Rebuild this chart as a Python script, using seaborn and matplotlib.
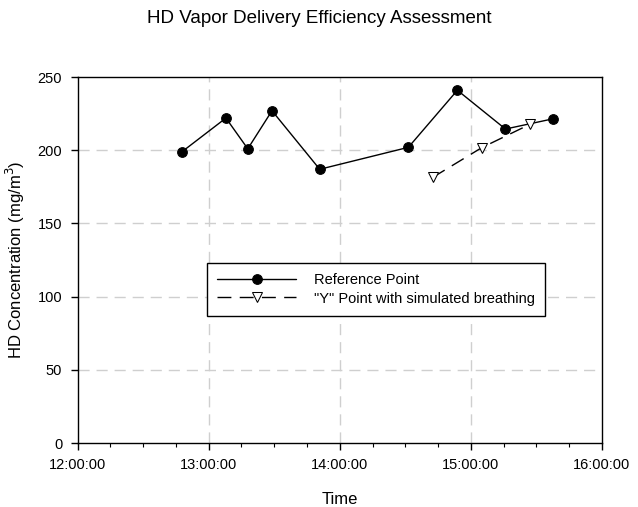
import pandas as pd
import matplotlib
matplotlib.use('Agg')
import matplotlib.pyplot as plt
import matplotlib.dates as mdates
import seaborn as sns

# data
ref_times = ['12:47:50', '13:07:55', '13:17:55', '13:29:00', '13:50:50',
             '14:31:25', '14:53:50', '15:15:50', '15:37:40']
ref_conc = [199, 222, 201, 227, 187, 202, 241, 214.5, 221.5]

y_times = ['14:42:35', '15:04:55', '15:27:00']
y_conc = [181.5, 201.7, 217.7]

day = '2000-01-01 '
ref_df = pd.DataFrame({'time': pd.to_datetime([day + t for t in ref_times]), 'conc': ref_conc})
y_df = pd.DataFrame({'time': pd.to_datetime([day + t for t in y_times]), 'conc': y_conc})

sns.set_style('white')
plt.rcParams['font.family'] = ['Liberation Sans', 'DejaVu Sans']
plt.rcParams['text.color'] = 'black'
plt.rcParams['axes.labelcolor'] = 'black'
plt.rcParams['xtick.color'] = 'black'
plt.rcParams['ytick.color'] = 'black'

fig = plt.figure(figsize=(6.38, 5.07), dpi=100)
ax = fig.add_axes([0.1215, 0.1262, 0.822, 0.7218])

sns.lineplot(data=ref_df, x='time', y='conc', ax=ax, color='black', lw=1,
             marker='o', markersize=7, markeredgecolor='black',
             label='Reference Point')
sns.lineplot(data=y_df, x='time', y='conc', ax=ax, color='black', lw=1,
             marker='v', markersize=7, markerfacecolor='white',
             markeredgecolor='black', dashes=False,
             label='"Y" Point with simulated breathing')
ax.lines[-1].set_linestyle((0, (10, 6)))

ax.set_xlim(pd.Timestamp(day + '12:00:00'), pd.Timestamp(day + '16:00:00'))
ax.set_ylim(0, 250)
ax.xaxis.set_major_locator(mdates.HourLocator())
ax.xaxis.set_minor_locator(mdates.MinuteLocator(byminute=[15, 30, 45]))
ax.xaxis.set_major_formatter(mdates.DateFormatter('%H:%M:%S'))
ax.set_yticks([0, 50, 100, 150, 200, 250])

ax.tick_params(axis='both', which='major', direction='out', length=5, width=1,
               labelsize=10.5, bottom=True, left=True, pad=6)
ax.tick_params(axis='x', which='minor', direction='out', length=3, width=0.8, bottom=True)

# dashed grey grid, only inside the box
for h in ['13:00:00', '14:00:00', '15:00:00']:
    ax.axvline(pd.Timestamp(day + h), color='#cfcfcf', lw=1, ls=(0, (8, 5)), zorder=0)
for v in [50, 100, 150, 200]:
    ax.axhline(v, color='#cfcfcf', lw=1, ls=(0, (8, 5)), zorder=0)

for s in ax.spines.values():
    s.set_color('black')
    s.set_linewidth(1)

ax.set_xlabel('Time', fontsize=12, labelpad=14)
ax.set_ylabel('HD Concentration (mg/m$^3$)', fontsize=12, labelpad=8)
fig.suptitle('HD Vapor Delivery Efficiency Assessment', fontsize=13.5, y=0.98)

leg = ax.legend(loc='upper left', bbox_to_anchor=(0.247, 0.492), borderaxespad=0,
                fancybox=False, framealpha=1, edgecolor='black', fontsize=10.5,
                handlelength=5.4, handletextpad=1.2, borderpad=0.7, labelspacing=0.3)
leg.get_frame().set_linewidth(1)

fig.savefig('out.png', dpi=100)
